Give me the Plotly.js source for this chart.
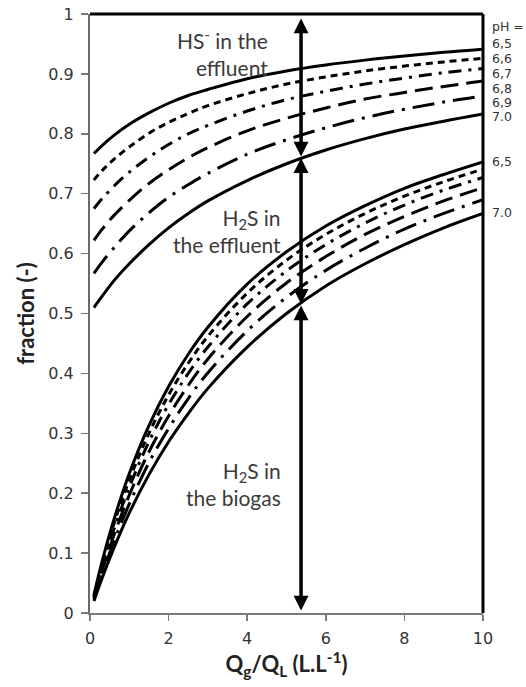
<!DOCTYPE html>
<html>
<head>
<meta charset="utf-8">
<script src="https://cdn.plot.ly/plotly-3.0.1.min.js"></script>
<style>html,body{margin:0;padding:0;background:#fff;}#chart{width:526px;height:687px;}</style>
</head>
<body>
<div id="chart"></div>
<script>
// Gas-to-liquid flow ratio Qg/QL (L.L-1)
const qRatio = [0.1, 0.3, 0.6, 1, 1.5, 2, 2.5, 3, 4, 5, 6, 7, 8, 9, 10];

// Upper curves: H2S in biogas + H2S in effluent (boundary with HS- in effluent)
const upper_pH65 = [0.767, 0.780, 0.797, 0.816, 0.835, 0.851, 0.864, 0.874, 0.892, 0.905, 0.915, 0.923, 0.930, 0.936, 0.941];
const upper_pH66 = [0.723, 0.738, 0.757, 0.778, 0.801, 0.819, 0.834, 0.847, 0.867, 0.883, 0.895, 0.905, 0.913, 0.920, 0.926];
const upper_pH67 = [0.675, 0.691, 0.712, 0.736, 0.761, 0.782, 0.800, 0.814, 0.838, 0.857, 0.871, 0.883, 0.893, 0.902, 0.909];
const upper_pH68 = [0.622, 0.640, 0.663, 0.689, 0.717, 0.740, 0.760, 0.777, 0.805, 0.826, 0.843, 0.858, 0.869, 0.879, 0.888];
const upper_pH69 = [0.567, 0.585, 0.609, 0.638, 0.668, 0.694, 0.715, 0.734, 0.766, 0.790, 0.810, 0.827, 0.841, 0.853, 0.863];
const upper_pH70 = [0.510, 0.528, 0.554, 0.583, 0.615, 0.643, 0.667, 0.688, 0.722, 0.750, 0.773, 0.792, 0.808, 0.821, 0.833];

// Lower curves: H2S in the biogas
const lower_pH65 = [0.030, 0.084, 0.154, 0.233, 0.313, 0.378, 0.432, 0.477, 0.549, 0.603, 0.646, 0.680, 0.709, 0.732, 0.753];
const lower_pH66 = [0.028, 0.079, 0.147, 0.222, 0.300, 0.364, 0.417, 0.462, 0.534, 0.589, 0.632, 0.667, 0.696, 0.720, 0.741];
const lower_pH67 = [0.026, 0.074, 0.138, 0.210, 0.286, 0.348, 0.400, 0.444, 0.516, 0.571, 0.615, 0.651, 0.681, 0.706, 0.727];
const lower_pH68 = [0.024, 0.069, 0.128, 0.197, 0.269, 0.329, 0.380, 0.424, 0.495, 0.551, 0.595, 0.632, 0.662, 0.688, 0.710];
const lower_pH69 = [0.022, 0.063, 0.118, 0.182, 0.251, 0.308, 0.358, 0.401, 0.471, 0.527, 0.572, 0.609, 0.641, 0.667, 0.690];
const lower_pH70 = [0.020, 0.057, 0.107, 0.167, 0.231, 0.286, 0.333, 0.375, 0.444, 0.500, 0.546, 0.583, 0.615, 0.643, 0.667];

const phLabels = ['6,5', '6,6', '6,7', '6,8', '6,9', '7.0'];

// Fraction boundaries along the vertical arrow at Qg/QL = 5.37
const arrowX = 5.37;
const arrowBounds = [0.995, 0.762, 0.516, 0.004];

const xTicks = [0, 2, 4, 6, 8, 10];

const upperSets = [upper_pH65, upper_pH66, upper_pH67, upper_pH68, upper_pH69, upper_pH70];
const lowerSets = [lower_pH65, lower_pH66, lower_pH67, lower_pH68, lower_pH69, lower_pH70];
const dashes = ['solid', '7px,5px', '13px,7px,3px,7px', '18px,8px', '22px,8px,3px,8px', 'solid'];

const traces = [];
upperSets.concat(lowerSets).forEach((ys, i) => {
  traces.push({
    x: qRatio, y: ys, type: 'scatter', mode: 'lines',
    name: 'pH ' + phLabels[i % 6],
    line: {color: '#000', width: 3, dash: dashes[i % 6], shape: 'spline', smoothing: 1},
    showlegend: false, hoverinfo: 'skip'
  });
});

const txtFont = {family: 'Lato, "Open Sans", sans-serif', size: 21, color: '#3a3a3a'};
const lblFont = {family: '"DejaVu Sans", Verdana, sans-serif', size: 12.5, color: '#333'};

const annotations = [];
// double-headed arrows
for (let k = 0; k < arrowBounds.length - 1; k++) {
  annotations.push({
    x: arrowX, y: arrowBounds[k + 1], ax: arrowX, ay: arrowBounds[k],
    xref: 'x', yref: 'y', axref: 'x', ayref: 'y',
    text: '', showarrow: true, arrowhead: 2, startarrowhead: 2, arrowside: 'end+start',
    arrowsize: 0.85, startarrowsize: 0.85, arrowwidth: 3.5, arrowcolor: '#000',
    standoff: 0, startstandoff: 0
  });
}
annotations.push({x: 4.58, y: 0.936, xref: 'x', yref: 'y', xanchor: 'right', yanchor: 'middle', align: 'right',
  text: 'HS<sup>-</sup> in the<br>effluent', showarrow: false, font: txtFont});
annotations.push({x: 4.91, y: 0.637, xref: 'x', yref: 'y', xanchor: 'right', yanchor: 'middle', align: 'right',
  text: 'H<sub>2</sub>S in<br>the effluent', showarrow: false, font: txtFont});
annotations.push({x: 4.91, y: 0.215, xref: 'x', yref: 'y', xanchor: 'right', yanchor: 'middle', align: 'right',
  text: 'H<sub>2</sub>S in<br>the biogas', showarrow: false, font: txtFont});

// pH labels on the right
annotations.push({x: 1, y: 1, xref: 'paper', yref: 'paper', xanchor: 'left', yanchor: 'middle', xshift: 7, yshift: -12,
  text: 'pH =', showarrow: false, font: lblFont});
const upShift = [6, 0, -5, -7, -6, -2];
upperSets.forEach((ys, i) => {
  annotations.push({x: 1, y: ys[ys.length - 1], xref: 'paper', yref: 'y', xanchor: 'left', yanchor: 'middle',
    xshift: 7, yshift: upShift[i], text: phLabels[i], showarrow: false, font: lblFont});
});
[[0, 0], [5, 1]].forEach(([i, sh]) => {
  const ys = lowerSets[i];
  annotations.push({x: 1, y: ys[ys.length - 1], xref: 'paper', yref: 'y', xanchor: 'left', yanchor: 'middle',
    xshift: 7, yshift: sh, text: phLabels[i], showarrow: false, font: lblFont});
});

const tickFont = {family: '"DejaVu Sans", Verdana, sans-serif', size: 16, color: '#333'};
const titleFont = {family: 'Lato, "Open Sans", sans-serif', size: 22, color: '#222', weight: 'bold'};

const layout = {
  width: 526, height: 687,
  margin: {l: 90, r: 43, t: 14, b: 74, pad: 0},
  paper_bgcolor: '#fff', plot_bgcolor: '#fff',
  showlegend: false,
  xaxis: {
    range: [0, 10], tickvals: xTicks, ticktext: xTicks.map(String),
    showgrid: false, zeroline: false, showline: true, linecolor: '#7a7a7a', linewidth: 2,
    ticks: 'outside', ticklen: 6, tickwidth: 1.5, tickcolor: '#7a7a7a',
    tickfont: tickFont, ticklabelstandoff: 4,
    title: {text: '<b>Q<sub>g</sub>/Q<sub>L</sub> (L.L<sup>-1</sup>)</b>', font: titleFont, standoff: 8}
  },
  yaxis: {
    range: [0, 1], dtick: 0.1, tick0: 0,
    showgrid: false, zeroline: false, showline: true, linecolor: '#6a6a6a', linewidth: 2,
    ticks: 'outside', ticklen: 7, tickwidth: 1.5, tickcolor: '#7a7a7a',
    tickfont: tickFont, ticklabelstandoff: 4,
    title: {text: '<b>fraction (-)</b>', font: titleFont, standoff: 8}
  },
  shapes: [
    {type: 'line', xref: 'paper', yref: 'paper', x0: 0, x1: 1, y0: 1, y1: 1, line: {color: '#000', width: 3}},
    {type: 'line', xref: 'paper', yref: 'paper', x0: 1, x1: 1, y0: 0, y1: 1, line: {color: '#000', width: 3}}
  ],
  annotations: annotations
};

Plotly.newPlot('chart', traces, layout, {staticPlot: true, displayModeBar: false});
</script>
</body>
</html>
